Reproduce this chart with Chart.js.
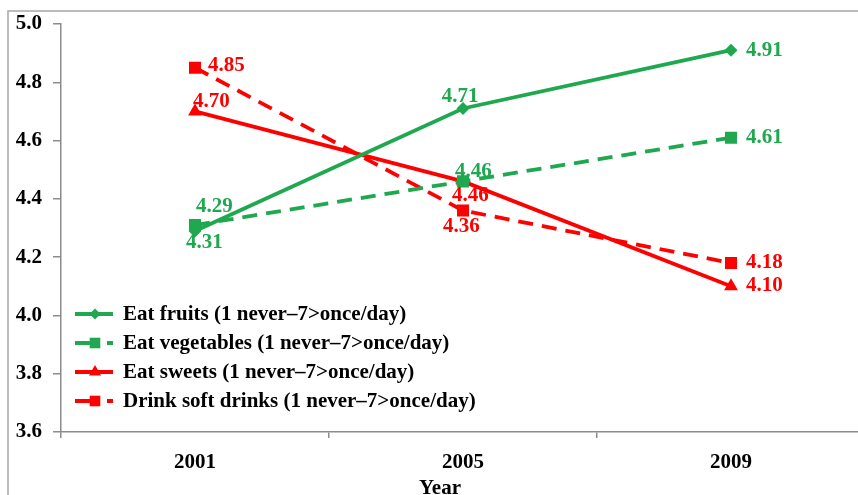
<!DOCTYPE html>
<html>
<head>
<meta charset="utf-8">
<script src="https://cdn.jsdelivr.net/npm/chart.js@4.4.1/dist/chart.umd.min.js"></script>
<style>
  html, body { margin: 0; padding: 0; background: #fff; overflow: hidden; }
  #wrap { width: 880px; height: 495px; }
</style>
</head>
<body>
<div id="wrap"><canvas id="foodChart" width="880" height="495"></canvas></div>
<script>
// chart values
const years = ["2001", "2005", "2009"];
const eatFruits = [4.29, 4.71, 4.91];
const eatVegetables = [4.31, 4.46, 4.61];
const eatSweets = [4.70, 4.46, 4.10];
const drinkSoftDrinks = [4.85, 4.36, 4.18];
const yTicks = [3.6, 3.8, 4.0, 4.2, 4.4, 4.6, 4.8, 5.0];
const seriesNames = [
  "Eat fruits (1 never\u20137>once/day)",
  "Eat vegetables (1 never\u20137>once/day)",
  "Eat sweets (1 never\u20137>once/day)",
  "Drink soft drinks (1 never\u20137>once/day)"
];

const GREEN = "#1fa84f";
const RED = "#ff0000";
const FONT = "'Liberation Serif', 'Times New Roman', serif";

// where each value label sits next to its point (dx, dy, align)
const labelSpots = [
  [[1, -24, "left"], [-3, -12, "center"], [15, 0, "left"]],
  [[-9, 17, "left"], [-8, -10, "left"], [15, 0, "left"]],
  [[-2, -10, "left"], [-11, 14, "left"], [15, -1, "left"]],
  [[13, -2, "left"], [-20, 16, "left"], [15, 0, "left"]]
];

function markerPath(ctx, style, r, x, y) {
  ctx.beginPath();
  if (style === "rectRot") {
    ctx.moveTo(x, y - r); ctx.lineTo(x + r, y); ctx.lineTo(x, y + r); ctx.lineTo(x - r, y);
  } else if (style === "triangle") {
    ctx.moveTo(x, y - r);
    ctx.lineTo(x + r * 0.866, y + r * 0.5);
    ctx.lineTo(x - r * 0.866, y + r * 0.5);
  } else {
    const s = r * Math.SQRT1_2;
    ctx.rect(x - s, y - s, 2 * s, 2 * s);
  }
  ctx.closePath();
  ctx.fill();
}

const framePlugin = {
  id: "frame",
  beforeDraw(chart) {
    const ctx = chart.ctx;
    ctx.save();
    ctx.strokeStyle = "#a6a6a6";
    ctx.lineWidth = 1.5;
    ctx.beginPath();
    ctx.moveTo(8, 500);
    ctx.lineTo(8, 11);
    ctx.lineTo(900, 11);
    ctx.stroke();
    ctx.restore();
  }
};

const valueLabels = {
  id: "valueLabels",
  afterDatasetsDraw(chart) {
    const ctx = chart.ctx;
    ctx.save();
    ctx.font = "bold 21px " + FONT;
    ctx.textBaseline = "middle";
    chart.data.datasets.forEach((ds, i) => {
      const meta = chart.getDatasetMeta(i);
      meta.data.forEach((pt, j) => {
        const spot = labelSpots[i][j];
        ctx.fillStyle = ds.borderColor;
        ctx.textAlign = spot[2];
        ctx.fillText(ds.data[j].toFixed(2), pt.x + spot[0], pt.y + spot[1]);
      });
    });
    ctx.restore();
  }
};

const insideLegend = {
  id: "insideLegend",
  afterDraw(chart) {
    const ctx = chart.ctx;
    const a = chart.chartArea;
    ctx.save();
    ctx.font = "bold 21px " + FONT;
    ctx.textBaseline = "middle";
    ctx.textAlign = "left";
    chart.data.datasets.forEach((ds, i) => {
      const y = a.top + 290 + i * 29;
      const x0 = a.left + 14;
      ctx.strokeStyle = ds.borderColor;
      ctx.lineWidth = 3.8;
      ctx.setLineDash(ds.borderDash ? [22, 10, 6, 100] : []);
      ctx.beginPath();
      ctx.moveTo(x0, y);
      ctx.lineTo(x0 + 38, y);
      ctx.stroke();
      ctx.setLineDash([]);
      ctx.fillStyle = ds.borderColor;
      markerPath(ctx, ds.pointStyle, ds.pointRadius - 1, x0 + 20, y);
      ctx.fillStyle = "#000";
      ctx.fillText(ds.label, x0 + 48, y + 1);
    });
    // axis title
    ctx.textAlign = "center";
    ctx.textBaseline = "alphabetic";
    ctx.fillText("Year", (a.left + a.right) / 2 - 23, 494);
    ctx.restore();
  }
};

const ctx = document.getElementById("foodChart").getContext("2d");
new Chart(ctx, {
  type: "line",
  data: {
    labels: years,
    datasets: [
      { label: seriesNames[0], data: eatFruits, borderColor: GREEN, backgroundColor: GREEN,
        pointStyle: "rectRot", pointRadius: 6.5 },
      { label: seriesNames[1], data: eatVegetables, borderColor: GREEN, backgroundColor: GREEN,
        pointStyle: "rect", pointRadius: 8.5, borderDash: [15, 9] },
      { label: seriesNames[2], data: eatSweets, borderColor: RED, backgroundColor: RED,
        pointStyle: "triangle", pointRadius: 8 },
      { label: seriesNames[3], data: drinkSoftDrinks, borderColor: RED, backgroundColor: RED,
        pointStyle: "rect", pointRadius: 8.5, borderDash: [15, 9] }
    ]
  },
  options: {
    responsive: false,
    animation: false,
    layout: { padding: { top: 24, right: 15, left: 0, bottom: 0 } },
    elements: {
      line: { borderWidth: 3.8, tension: 0 },
      point: { borderWidth: 0, hoverRadius: 8 }
    },
    plugins: {
      legend: { display: false },
      tooltip: { enabled: false }
    },
    scales: {
      x: {
        offset: true,
        grid: { offset: true, drawOnChartArea: false, tickLength: 6, color: "#8c8c8c", lineWidth: 1.5 },
        border: { color: "#8c8c8c", width: 1.5 },
        ticks: { color: "#000", padding: 12, font: { family: FONT, size: 21, weight: "bold" } },
        afterFit(scale) { scale.height = 63; }
      },
      y: {
        min: 3.6,
        max: 5.0,
        afterBuildTicks(scale) { scale.ticks = yTicks.map(v => ({ value: v })); },
        grid: { drawOnChartArea: false, tickLength: 8, color: "#8c8c8c", lineWidth: 1.5 },
        border: { color: "#8c8c8c", width: 1.5 },
        ticks: {
          color: "#000", padding: 11,
          font: { family: FONT, size: 21, weight: "bold" },
          callback: v => Number(v).toFixed(1)
        },
        afterFit(scale) { scale.width = 61; }
      }
    }
  },
  plugins: [framePlugin, valueLabels, insideLegend]
});
</script>
</body>
</html>
